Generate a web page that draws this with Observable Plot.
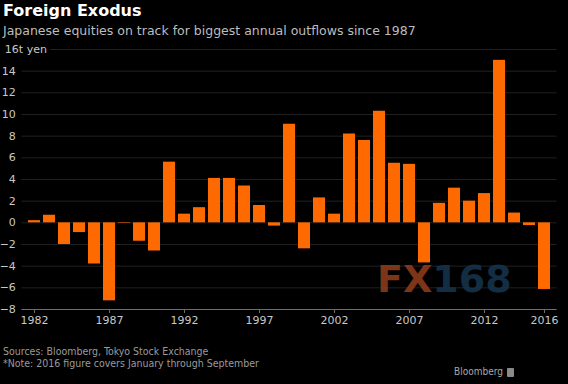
<!DOCTYPE html>
<html><head><meta charset="utf-8">
<script src="https://cdn.jsdelivr.net/npm/d3@7"></script>
<script src="https://cdn.jsdelivr.net/npm/@observablehq/plot@0.6"></script>
<style>
html,body{margin:0;padding:0;background:#000;}
#wrap{position:relative;width:568px;height:384px;background:#000;overflow:hidden;font-family:"DejaVu Sans",sans-serif;}
#title{position:absolute;left:3px;top:1px;color:#fff;font-weight:bold;font-size:16px;line-height:20px;white-space:nowrap;}
#subtitle{position:absolute;left:3px;top:23px;color:#bdbdbd;font-size:12.5px;line-height:16px;white-space:nowrap;}
#chart{position:absolute;left:0;top:40px;}
#src{position:absolute;left:3px;top:345px;color:#9a9a9a;font-family:"DejaVu Sans Condensed","DejaVu Sans",sans-serif;font-size:10.5px;line-height:12px;white-space:nowrap;}
#brand{position:absolute;right:65px;top:366px;color:#a8a8a8;font-family:"DejaVu Sans Condensed","DejaVu Sans",sans-serif;font-size:10px;white-space:nowrap;}
#icon{position:absolute;left:507px;top:368px;width:7px;height:9px;background:#8a8a8a;border-radius:1px;}
#wm{position:absolute;left:377px;top:260px;font-family:"DejaVu Sans",sans-serif;font-weight:bold;font-size:38px;line-height:38px;white-space:nowrap;opacity:0.9;}
#wm .a{color:#8c3a1a;} #wm .b{color:#16324a;}
</style>
</head><body>
<div id="wrap">
  <div id="title"></div>
  <div id="subtitle"></div>
  <div id="chart"></div>
  <div id="wm"><span class="a"></span><span class="b"></span></div>
  <div id="src"></div>
  <div id="brand"></div>
  <div id="icon"></div>
</div>
<script>
const titleText = "Foreign Exodus";
const subtitleText = "Japanese equities on track for biggest annual outflows since 1987";
const unitLabel = "16t yen";
const sourceLines = ["Sources: Bloomberg, Tokyo Stock Exchange", "*Note: 2016 figure covers January through September"];
const brandText = "Bloomberg";
const watermark = ["FX", "168"];

const years = [1982,1983,1984,1985,1986,1987,1988,1989,1990,1991,1992,1993,1994,1995,1996,1997,1998,1999,2000,2001,2002,2003,2004,2005,2006,2007,2008,2009,2010,2011,2012,2013,2014,2015,2016];
const flows = [0.2,0.7,-2.0,-0.9,-3.8,-7.2,-0.05,-1.7,-2.6,5.6,0.8,1.4,4.1,4.1,3.4,1.6,-0.3,9.1,-2.4,2.3,0.8,8.2,7.6,10.3,5.5,5.4,-3.7,1.8,3.2,2.0,2.7,15.0,0.9,-0.25,-6.15];
const xTicks = [1982,1987,1992,1997,2002,2007,2012,2016];
const yTicks = [-8,-6,-4,-2,0,2,4,6,8,10,12,14];
const gridValues = [-6,-4,-2,0,2,4,6,8,10,12,14,16];

document.getElementById("title").textContent = titleText;
document.getElementById("subtitle").textContent = subtitleText;
document.getElementById("src").innerHTML = sourceLines.join("<br>");
document.getElementById("brand").textContent = brandText;
document.querySelector("#wm .a").textContent = watermark[0];
document.querySelector("#wm .b").textContent = watermark[1];

const data = years.map((y, i) => ({year: y, value: flows[i]}));

const chart = Plot.plot({
  width: 568,
  height: 295,
  marginLeft: 21.35,
  marginRight: 11.4,
  marginTop: 9,
  marginBottom: 26,
  style: {background: "#000", color: "#c8c8c8", fontFamily: "DejaVu Sans, sans-serif", fontSize: "11px"},
  x: {type: "band", domain: years, paddingInner: 0.2, paddingOuter: 0.1},
  y: {domain: [-8, 16]},
  marks: [
    Plot.ruleY(gridValues, {stroke: "#202020", strokeWidth: 1}),
    Plot.ruleY([-8], {stroke: "#6e6e6e", strokeWidth: 1}),
    Plot.barY(data, {x: "year", y: "value", fill: "#ff6a00"}),
    Plot.axisY({ticks: yTicks, tickSize: 0, tickPadding: 6, label: null, fill: "#c8c8c8"}),
    Plot.axisX({ticks: xTicks, tickFormat: d => String(d), tickSize: 4, tickPadding: 3, label: null, stroke: "#6e6e6e", fill: "#c8c8c8"}),
    Plot.text([unitLabel], {y: () => 16, frameAnchor: "left", dx: -17, textAnchor: "start", fill: "#c8c8c8", stroke: "#000", strokeWidth: 8, fontSize: 11})
  ]
});
document.getElementById("chart").appendChild(chart);
</script>
</body></html>
